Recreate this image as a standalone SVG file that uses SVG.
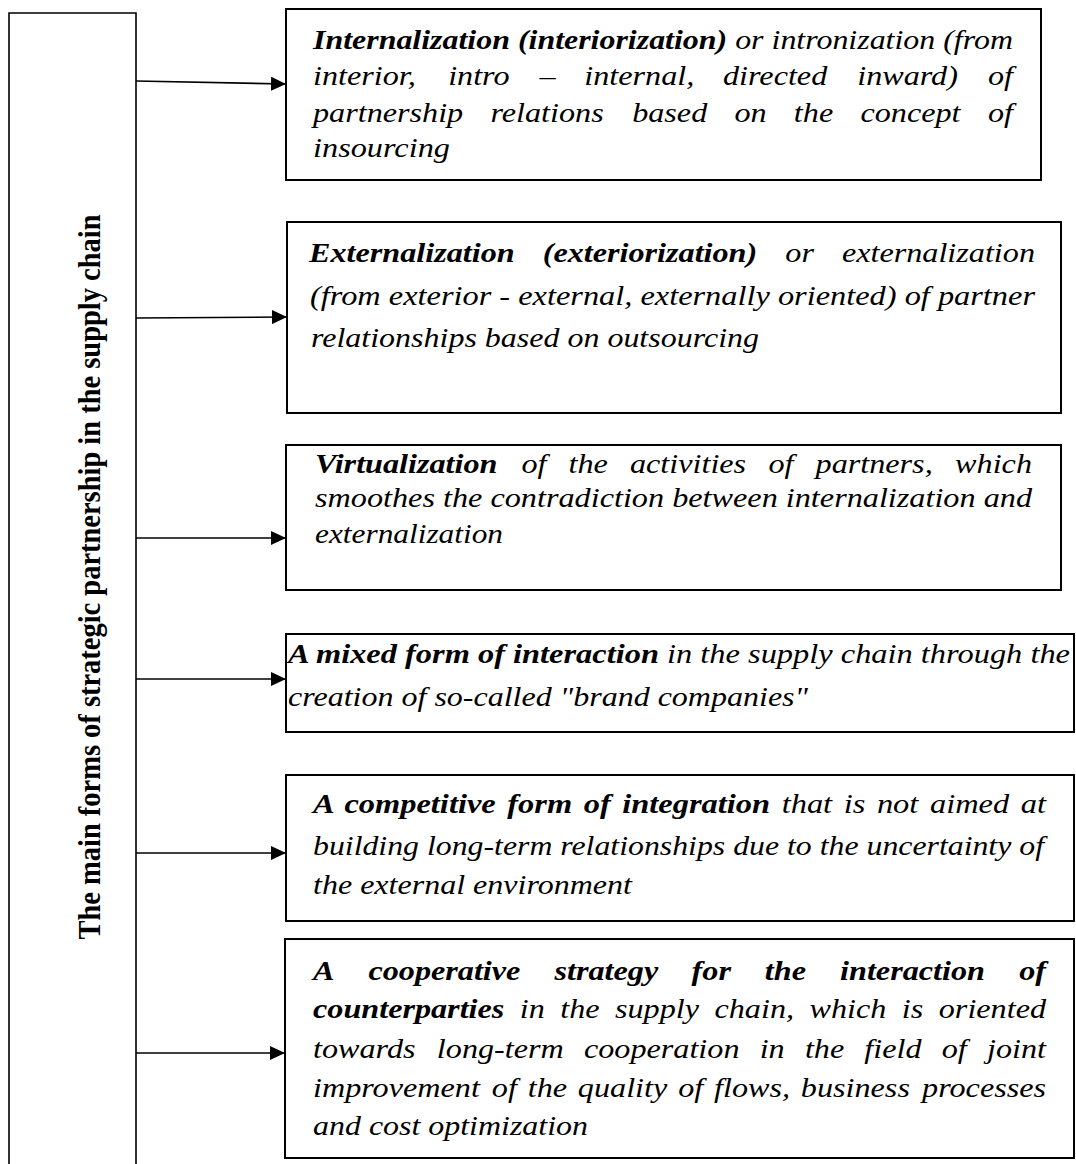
<svg xmlns="http://www.w3.org/2000/svg" width="1076" height="1164" viewBox="0 0 1076 1164">
<style>
.box{fill:#fff;stroke:#000;stroke-width:2}
.frame{fill:none;stroke:#000;stroke-width:1.6}
.conn{fill:none;stroke:#000;stroke-width:1.6}
.t{font-family:"Liberation Serif","Times New Roman",serif;font-size:28px;font-style:italic;fill:#000}
.b{font-weight:bold}
.e{text-anchor:end}
.lbl{font-family:"Liberation Serif","Times New Roman",serif;font-size:28.5px;font-weight:bold;fill:#000}
</style>
<defs>
<marker id="ah" markerUnits="userSpaceOnUse" markerWidth="15" markerHeight="14" viewBox="0 0 15 14" refX="15" refY="7" orient="auto">
<path d="M0,0 L15,7 L0,14 Z" fill="#000"/>
</marker>
</defs>
<rect width="1076" height="1164" fill="#fff"/>

<g id="main">
<path class="frame" d="M9,1166 V13 H136 V1166"/>
<text class="lbl" transform="translate(100,577) rotate(-90) scale(1,1.14)" text-anchor="middle" textLength="725" lengthAdjust="spacingAndGlyphs">The main forms of strategic partnership in the supply chain</text>
</g>

<g id="connectors">
<line class="conn" x1="136" y1="81" x2="286" y2="84" marker-end="url(#ah)"/>
<line class="conn" x1="136" y1="318" x2="287" y2="317" marker-end="url(#ah)"/>
<line class="conn" x1="136" y1="538" x2="286" y2="538" marker-end="url(#ah)"/>
<line class="conn" x1="136" y1="679" x2="286" y2="679" marker-end="url(#ah)"/>
<line class="conn" x1="136" y1="853" x2="286" y2="853" marker-end="url(#ah)"/>
<line class="conn" x1="136" y1="1053" x2="285" y2="1053" marker-end="url(#ah)"/>
</g>

<g id="node1">
<rect class="box" x="286" y="9" width="755" height="171"/>
<text class="t" x="313" y="49" textLength="700" lengthAdjust="spacingAndGlyphs"><tspan class="b">Internalization (interiorization)</tspan> or intronization (from</text>
<text class="t" y="85" transform="scale(1.15,1)"><tspan x="272.2">interior,</tspan> <tspan x="389.7">intro</tspan> <tspan x="469.1">–</tspan> <tspan x="508.1">internal,</tspan> <tspan x="628.7">directed</tspan> <tspan x="745.4">inward)</tspan> <tspan class="e" x="880.9">of</tspan></text>
<text class="t" y="122" transform="scale(1.15,1)"><tspan x="272.2">partnership</tspan> <tspan x="426.5">relations</tspan> <tspan x="549.7">based</tspan> <tspan x="638.7">on</tspan> <tspan x="690.3">the</tspan> <tspan x="748.2">concept</tspan> <tspan class="e" x="880.9">of</tspan></text>
<text class="t" x="313" y="157" textLength="137" lengthAdjust="spacingAndGlyphs">insourcing</text>
</g>

<g id="node2">
<rect class="box" x="287" y="222" width="774" height="191"/>
<text class="t" y="262" transform="scale(1.15,1)"><tspan class="b" x="268.7">Externalization</tspan> <tspan class="b" x="471.9">(exteriorization)</tspan> <tspan x="682.9">or</tspan> <tspan class="e" x="900">externalization</tspan></text>
<text class="t" x="310" y="305" textLength="725" lengthAdjust="spacingAndGlyphs">(from exterior - external, externally oriented) of partner</text>
<text class="t" x="311" y="347" textLength="448" lengthAdjust="spacingAndGlyphs">relationships based on outsourcing</text>
</g>

<g id="node3">
<rect class="box" x="286" y="445" width="775" height="145"/>
<text class="t" y="473" transform="scale(1.15,1)"><tspan class="b" x="273.9">Virtualization</tspan> <tspan x="453.4">of</tspan> <tspan x="494.4">the</tspan> <tspan x="547.8">activities</tspan> <tspan x="668.2">of</tspan> <tspan x="709.2">partners,</tspan> <tspan class="e" x="897.4">which</tspan></text>
<text class="t" x="315" y="507" textLength="717" lengthAdjust="spacingAndGlyphs">smoothes the contradiction between internalization and</text>
<text class="t" x="315" y="543" textLength="188" lengthAdjust="spacingAndGlyphs">externalization</text>
</g>

<g id="node4">
<rect class="box" x="286" y="634" width="788" height="98"/>
<text class="t" x="288" y="663" textLength="782" lengthAdjust="spacingAndGlyphs"><tspan class="b">A mixed form of interaction</tspan> in the supply chain through the</text>
<text class="t" x="288" y="706" textLength="520" lengthAdjust="spacingAndGlyphs">creation of so-called "brand companies"</text>
</g>

<g id="node5">
<rect class="box" x="286" y="775" width="788" height="146"/>
<text class="t" x="313" y="813" word-spacing="3" textLength="733" lengthAdjust="spacingAndGlyphs"><tspan class="b">A competitive form of integration</tspan> that is not aimed at</text>
<text class="t" x="313" y="855" textLength="731" lengthAdjust="spacingAndGlyphs">building long-term relationships due to the uncertainty of</text>
<text class="t" x="313" y="894" textLength="319" lengthAdjust="spacingAndGlyphs">the external environment</text>
</g>

<g id="node6">
<rect class="box" x="285" y="939" width="789" height="219"/>
<text class="t b" y="980" transform="scale(1.15,1)"><tspan x="272.2">A</tspan> <tspan x="320.4">cooperative</tspan> <tspan x="482.2">strategy</tspan> <tspan x="601.4">for</tspan> <tspan x="665.1">the</tspan> <tspan x="730.5">interaction</tspan> <tspan class="e" x="909.6">of</tspan></text>
<text class="t" y="1018" transform="scale(1.15,1)"><tspan class="b" x="272.2">counterparties</tspan> <tspan x="452">in</tspan> <tspan x="487.2">the</tspan> <tspan x="534.8">supply</tspan> <tspan x="621.3">chain,</tspan> <tspan x="703.9">which</tspan> <tspan x="784.2">is</tspan> <tspan class="e" x="909.6">oriented</tspan></text>
<text class="t" y="1058" transform="scale(1.15,1)"><tspan x="272.2">towards</tspan> <tspan x="379.9">long-term</tspan> <tspan x="507.8">cooperation</tspan> <tspan x="660.6">in</tspan> <tspan x="699.9">the</tspan> <tspan x="751.6">field</tspan> <tspan x="818.9">of</tspan> <tspan class="e" x="909.6">joint</tspan></text>
<text class="t" y="1097" transform="scale(1.15,1)"><tspan x="272.2">improvement</tspan> <tspan x="427.7">of</tspan> <tspan x="458.9">the</tspan> <tspan x="502.5">quality</tspan> <tspan x="589.7">of</tspan> <tspan x="620.9">flows,</tspan> <tspan x="696.4">business</tspan> <tspan class="e" x="909.6">processes</tspan></text>
<text class="t" x="313" y="1135" textLength="275" lengthAdjust="spacingAndGlyphs">and cost optimization</text>
</g>
</svg>
